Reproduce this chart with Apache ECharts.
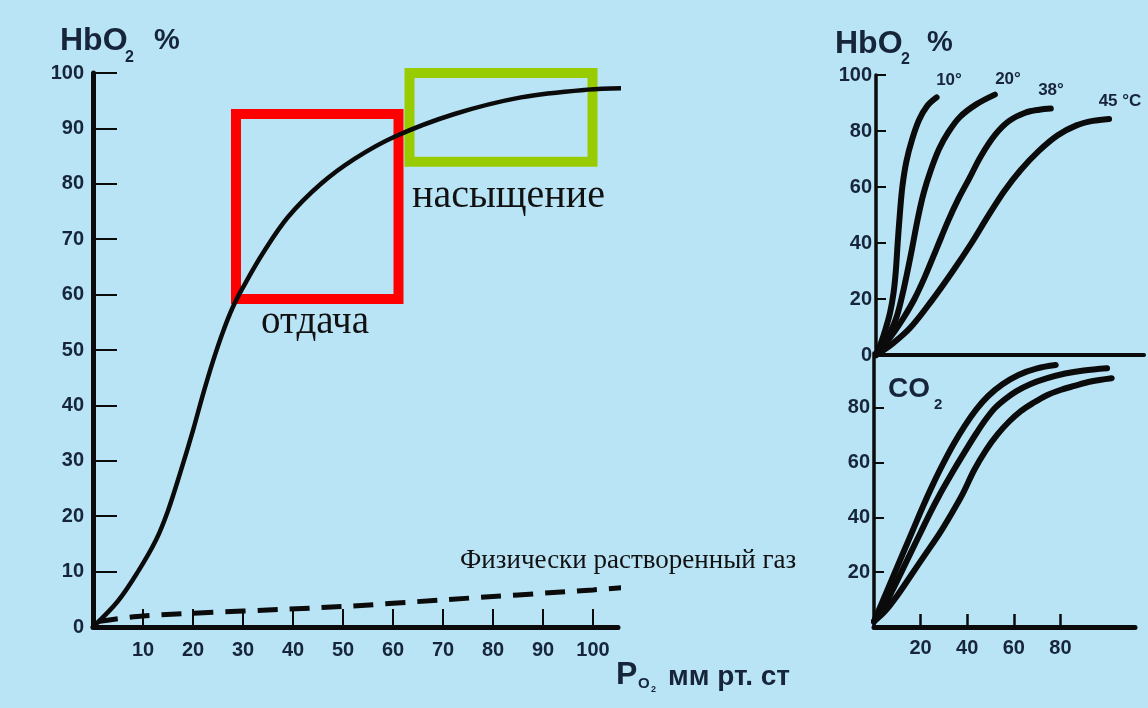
<!DOCTYPE html>
<html><head><meta charset="utf-8">
<script src="https://cdn.jsdelivr.net/npm/echarts@6/dist/echarts.min.js"></script>
<style>html,body{margin:0;padding:0;background:#b9e4f6;}#c{width:1148px;height:708px;}</style>
</head><body><div id="c"></div>
<script>
// ---- Left chart: HbO2 dissociation curve ----
const po2X   = [0, 5, 9, 12.6, 15, 17.5, 20, 22, 24, 26, 28, 30, 34, 39, 45.6, 52.3, 60.3, 72.3, 85.6, 98.9, 108];
const hbo2Y  = [0, 4.7, 10, 15.7, 21, 28, 35.5, 42, 48, 53.3, 57.8, 61.3, 67.5, 74, 80, 84.5, 88.5, 92.6, 95.6, 97, 97.3];
const dissolvedX = [1, 10, 50, 70, 100, 106];
const dissolvedY = [1, 2, 3.7, 4.9, 6.7, 7.1];
const leftXTicks = [10, 20, 30, 40, 50, 60, 70, 80, 90, 100];
const boxRelease    = [[28.6, 59.2], [61.1, 92.6]];
const boxSaturation = [[63.3, 84.0], [99.9, 101.3]];

// ---- Right top: temperature curves ----
const t10X = [0, 2, 4, 6, 7.5, 8.5, 9.3, 10.2, 11.3, 13, 15.5, 18.5, 22, 26];
const t10Y = [0, 4, 9, 15, 22, 30, 40, 50, 60, 69, 77, 84, 89, 92];
const t20X = [0, 3, 6, 9, 12, 15, 18, 20.5, 23.5, 27, 31, 36, 43, 51];
const t20Y = [0, 4, 8, 14, 24, 36, 49, 58, 66, 73.5, 79.5, 85, 89.5, 93];
const t38X = [0, 4, 8, 12, 16.5, 21, 26, 31, 35.5, 40, 45, 51, 57, 64, 70, 75];
const t38Y = [0, 4, 8.5, 13.5, 20, 28, 38, 48, 56, 63, 71, 78.5, 83.5, 86.5, 87.6, 88];
const t45X = [0, 7, 15, 24, 33, 41, 48, 55, 62, 70, 78, 86, 93, 100];
const t45Y = [0, 4, 10, 19.5, 30, 40, 49.5, 58.5, 66, 73, 78.5, 82, 83.6, 84.3];
const tempLabels = ['10°', '20°', '38°', '45 °C'];

// ---- Right bottom: CO2 curves ----
const co2aX = [0, 3, 6, 9, 13, 17, 21, 25, 29, 34, 39, 44, 49, 55, 62, 70, 78];
const co2aY = [2, 8, 14, 20, 28, 36, 44, 51.5, 58.5, 66.5, 73.5, 79.5, 84.3, 88.5, 92, 94.4, 95.6];
const co2bX = [0, 4, 8, 12, 16, 20, 24, 28, 32, 36, 40, 44, 48, 52, 56, 61, 67, 74, 82, 90, 100];
const co2bY = [2, 7, 13.5, 20.5, 27.5, 34.5, 41.5, 48, 54, 59.8, 65.4, 70.8, 75.8, 80, 83, 86, 88.6, 90.7, 92.5, 93.6, 94.4];
const co2cX = [0, 5, 10, 16, 22, 28, 33, 38, 43, 48, 53, 58, 63, 68, 74, 80, 86, 93, 102];
const co2cY = [2, 6, 11.5, 19, 26.5, 34, 41, 48.5, 57.3, 64.5, 70.3, 75, 78.8, 81.6, 84.5, 86.5, 88, 89.6, 90.8];
const rightXTicks = [20, 40, 60, 80];
const rightBottomYTicks = [20, 40, 60, 80];

const zip = (xs, ys) => xs.map((x, i) => [x, ys[i]]);
const INK = '#0b0b0b';
const NAVY = '#17253a';
const SANS = "'Liberation Sans', Arial, sans-serif";
const SERIF = "'Liberation Serif', 'Times New Roman', serif";
const lbl = (extra) => Object.assign({color: NAVY, fontFamily: SANS, fontWeight: 'bold', fontSize: 20}, extra);

function txt(x, y, text, size, opts) {
  opts = opts || {};
  const font = (opts.bold === false ? '' : 'bold ') + size + 'px ' + (opts.family || SANS);
  return {type: 'text', x: x, y: y, silent: true, z: 100,
    style: {text: text, font: font, fill: opts.fill || NAVY,
      align: opts.align || 'left', textAlign: opts.align || 'left',
      verticalAlign: 'middle', textVerticalAlign: 'middle'}};
}

const curveLine = (w) => ({color: INK, width: w, cap: 'round', join: 'round'});
const curve = (xi, data, w) => ({type: 'line', xAxisIndex: xi, yAxisIndex: xi, data: data, smooth: 0.35,
  showSymbol: false, symbol: 'none', clip: false, lineStyle: curveLine(w)});

const option = {
  backgroundColor: '#b9e4f6',
  animation: false,
  grid: [
    {left: 93, top: 73, width: 525, height: 554},
    {left: 876, top: 75, width: 268, height: 280},
    {left: 874, top: 353, width: 261, height: 274}
  ],
  xAxis: [
    {gridIndex: 0, type: 'value', min: 0, max: 105,
     axisLine: {lineStyle: {color: INK, width: 5}},
     axisTick: {inside: true, length: 18, customValues: leftXTicks, lineStyle: {color: INK, width: 2}},
     axisLabel: lbl({customValues: leftXTicks, margin: 13}),
     splitLine: {show: false}},
    {gridIndex: 1, type: 'value', min: 0, max: 115,
     axisLine: {lineStyle: {color: INK, width: 4}},
     axisTick: {show: false}, axisLabel: {show: false}, splitLine: {show: false}},
    {gridIndex: 2, type: 'value', min: 0, max: 112,
     axisLine: {lineStyle: {color: INK, width: 5}},
     axisTick: {inside: true, length: 13, customValues: rightXTicks, lineStyle: {color: INK, width: 2.5}},
     axisLabel: lbl({customValues: rightXTicks, margin: 11}),
     splitLine: {show: false}}
  ],
  yAxis: [
    {gridIndex: 0, type: 'value', min: 0, max: 100, interval: 10,
     axisLine: {show: true, lineStyle: {color: INK, width: 5}},
     axisTick: {show: true, inside: true, length: 24, lineStyle: {color: INK, width: 2}},
     axisLabel: lbl({margin: 9}), splitLine: {show: false}},
    {gridIndex: 1, type: 'value', min: 0, max: 100, interval: 20,
     axisLine: {show: true, lineStyle: {color: INK, width: 3.5}},
     axisTick: {show: true, inside: true, length: 10, lineStyle: {color: INK, width: 2}},
     axisLabel: lbl({margin: 4}), splitLine: {show: false}},
    {gridIndex: 2, type: 'value', min: 0, max: 100, interval: 20,
     axisLine: {show: true, lineStyle: {color: INK, width: 3.5}},
     axisTick: {show: true, inside: true, length: 10, customValues: rightBottomYTicks, lineStyle: {color: INK, width: 2}},
     axisLabel: lbl({margin: 4, customValues: rightBottomYTicks}), splitLine: {show: false}}
  ],
  series: [
    Object.assign(curve(0, zip(po2X, hbo2Y), 4.5), {z: 5,
     markArea: {silent: true, data: [
       [{xAxis: boxRelease[0][0], yAxis: boxRelease[0][1], itemStyle: {color: 'rgba(0,0,0,0)', borderColor: '#ff0000', borderWidth: 10}},
        {xAxis: boxRelease[1][0], yAxis: boxRelease[1][1]}],
       [{xAxis: boxSaturation[0][0], yAxis: boxSaturation[0][1], itemStyle: {color: 'rgba(0,0,0,0)', borderColor: '#99cc00', borderWidth: 10}},
        {xAxis: boxSaturation[1][0], yAxis: boxSaturation[1][1]}]
     ]}}),
    {type: 'line', xAxisIndex: 0, yAxisIndex: 0, data: zip(dissolvedX, dissolvedY), smooth: 0.3,
     showSymbol: false, symbol: 'none', clip: false, lineStyle: {color: INK, width: 5, type: [20, 12]}},
    curve(1, zip(t10X, t10Y), 6),
    curve(1, zip(t20X, t20Y), 6),
    curve(1, zip(t38X, t38Y), 6),
    curve(1, zip(t45X, t45Y), 6),
    curve(2, zip(co2aX, co2aY), 6),
    curve(2, zip(co2bX, co2bY), 6),
    curve(2, zip(co2cX, co2cY), 6)
  ],
  graphic: [
    txt(60, 41, 'HbO', 32), txt(125, 58, '2', 16), txt(154, 41, '%', 29),
    txt(835, 44, 'HbO', 32), txt(901, 60, '2', 16), txt(927, 43, '%', 29),
    txt(949, 80, tempLabels[0], 17, {align: 'center'}),
    txt(1008, 79, tempLabels[1], 17, {align: 'center'}),
    txt(1051, 90, tempLabels[2], 17, {align: 'center'}),
    txt(1120, 101, tempLabels[3], 17, {align: 'center'}),
    txt(888, 389, 'CO', 28), txt(934, 405, '2', 15),
    txt(616, 675, 'P', 32), txt(638, 684, 'O', 15), txt(651, 690, '2', 9),
    txt(668, 677, 'мм рт. ст', 28),
    txt(412, 196, 'насыщение', 40, {bold: false, family: SERIF, fill: '#111'}),
    txt(261, 323, 'отдача', 39, {bold: false, family: SERIF, fill: '#111'}),
    txt(460, 561, 'Физически растворенный газ', 27, {bold: false, family: SERIF, fill: '#111'})
  ]
};
echarts.init(document.getElementById('c'), null, {renderer: 'canvas'}).setOption(option);
</script></body></html>
